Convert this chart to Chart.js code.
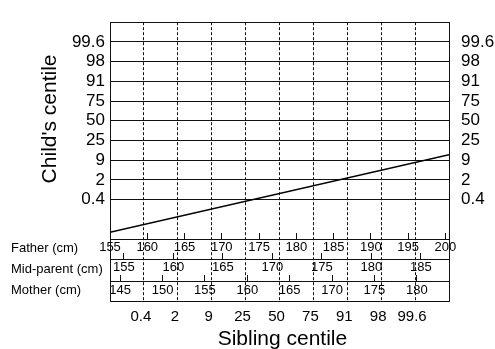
<!DOCTYPE html>
<html><head><meta charset="utf-8">
<script src="https://cdn.jsdelivr.net/npm/chart.js@4/dist/chart.umd.min.js"></script>
<style>html,body{margin:0;padding:0;background:#fff;overflow:hidden}</style>
</head><body>
<canvas id="c" width="495" height="349"></canvas>
<script>
// ---- data ----
const centileLabels = ['0.4', '2', '9', '25', '50', '75', '91', '98', '99.6'];
const centileSteps = [-4, -3, -2, -1, 0, 1, 2, 3, 4];   // centile lines, in 2/3-SD steps
const fatherTicks = [155, 160, 165, 170, 175, 180, 185, 190, 195, 200];
const midParentTicks = [155, 160, 165, 170, 175, 180, 185];
const motherTicks = [145, 150, 155, 160, 165, 170, 175, 180];
const rowNames = ['Father (cm)', 'Mid-parent (cm)', 'Mother (cm)'];
const siblingValues = [-5, 5];
const childValues = [-5.66, -1.72];

const FONT = "'Liberation Sans', Arial, Helvetica, sans-serif";
const labelFor = v => centileLabels[centileSteps.indexOf(Math.round(v))] ?? '';
const setTicks = arr => scale => { scale.ticks = arr.map(v => ({ value: v })); };
const fixH = h => s => { s.height = h; };
const fixW = w => s => { s.width = w; };
const ap = (v) => Math.round(v - 0.5) + 0.5;

const framePlugin = {
  id: 'frame',
  beforeDatasetsDraw(chart) {
    const { ctx, chartArea, scales } = chart;
    const rows = [scales.father, scales.mid, scales.mother];
    const bottom = scales.mother.bottom;
    ctx.save();
    ctx.strokeStyle = '#111';
    ctx.lineWidth = 1;
    // dashed sibling-centile lines through the plot and the three rows
    ctx.setLineDash([3, 2]);
    scales.x.ticks.forEach(t => {
      const px = ap(scales.x.getPixelForValue(t.value));
      ctx.beginPath(); ctx.moveTo(px, chartArea.top); ctx.lineTo(px, bottom); ctx.stroke();
    });
    ctx.setLineDash([]);
    // frame
    const L = ap(chartArea.left), R = ap(chartArea.right), T = ap(chartArea.top);
    ctx.beginPath();
    ctx.moveTo(L, bottom); ctx.lineTo(L, T); ctx.lineTo(R, T); ctx.lineTo(R, bottom);
    ctx.stroke();
    // upward tick marks on the parental scales
    rows.forEach(s => {
      s.ticks.forEach(t => {
        const px = ap(s.getPixelForValue(t.value));
        ctx.beginPath(); ctx.moveTo(px, s.top); ctx.lineTo(px, s.top - 6); ctx.stroke();
      });
    });
    // row names
    ctx.fillStyle = '#000';
    ctx.font = '13px ' + FONT;
    ctx.textBaseline = 'middle';
    ctx.textAlign = 'left';
    rows.forEach((s, i) => ctx.fillText(rowNames[i], 11, (s.top + s.bottom) / 2 - 1));
    ctx.restore();
  }
};

const rowScale = (weight, min, max, ticks, h, pad) => ({
  type: 'linear', position: 'bottom', weight, min, max,
  afterBuildTicks: setTicks(ticks),
  afterFit: fixH(h),
  grid: { display: false, drawTicks: false, tickLength: 0 },
  border: { display: true, color: '#111', width: 1 },
  ticks: { autoSkip: false, maxRotation: 0, padding: pad, color: '#000', font: { family: FONT, size: 13 } }
});

new Chart(document.getElementById('c'), {
  type: 'scatter',
  data: {
    datasets: [{
      data: siblingValues.map((x, i) => ({ x, y: childValues[i] })),
      showLine: true, borderColor: '#000', borderWidth: 1.5, pointRadius: 0, fill: false,
      xAxisID: 'x', yAxisID: 'y'
    }]
  },
  options: {
    responsive: false, animation: false, devicePixelRatio: 1,
    layout: { padding: { top: 10, left: 0, right: 0, bottom: 0 } },
    plugins: { legend: { display: false }, tooltip: { enabled: false } },
    scales: {
      y: {
        type: 'linear', position: 'left', min: -6, max: 5,
        afterBuildTicks: setTicks(centileSteps), afterFit: fixW(110),
        grid: { color: '#111', lineWidth: 1, drawTicks: false, tickLength: 0 },
        border: { display: true, color: '#111' },
        ticks: { callback: labelFor, padding: 5, color: '#000', font: { family: FONT, size: 17 } },
        title: { display: true, text: "    Child's centile", color: '#000', font: { family: FONT, size: 21 }, padding: { top: 38, bottom: 0 } }
      },
      y2: {
        type: 'linear', position: 'right', min: -6, max: 5,
        afterBuildTicks: setTicks(centileSteps), afterFit: fixW(46),
        grid: { display: false, drawTicks: false, tickLength: 0 },
        border: { display: true, color: '#111' },
        ticks: { callback: labelFor, padding: 12, color: '#000', font: { family: FONT, size: 17 } }
      },
      father: rowScale(1, 155, 200.5, fatherTicks, 20, 1),
      mid: rowScale(2, 153.6, 187.85, midParentTicks, 22, 1),
      mother: rowScale(3, 143.8, 183.8, motherTicks, 20, 2),
      x: {
        type: 'linear', position: 'bottom', weight: 4, min: -5, max: 5,
        afterBuildTicks: setTicks(centileSteps), afterFit: fixH(48),
        grid: { display: false, drawTicks: false, tickLength: 0 },
        border: { display: true, color: '#111' },
        ticks: { callback: labelFor, autoSkip: false, maxRotation: 0, padding: 7, labelOffset: -3, color: '#000', font: { family: FONT, size: 15 } },
        title: { display: true, text: ' Sibling centile', color: '#000', font: { family: FONT, size: 21, lineHeight: '19px' }, padding: { top: 0, bottom: 0 } }
      }
    }
  },
  plugins: [framePlugin]
});
</script>
</body></html>
